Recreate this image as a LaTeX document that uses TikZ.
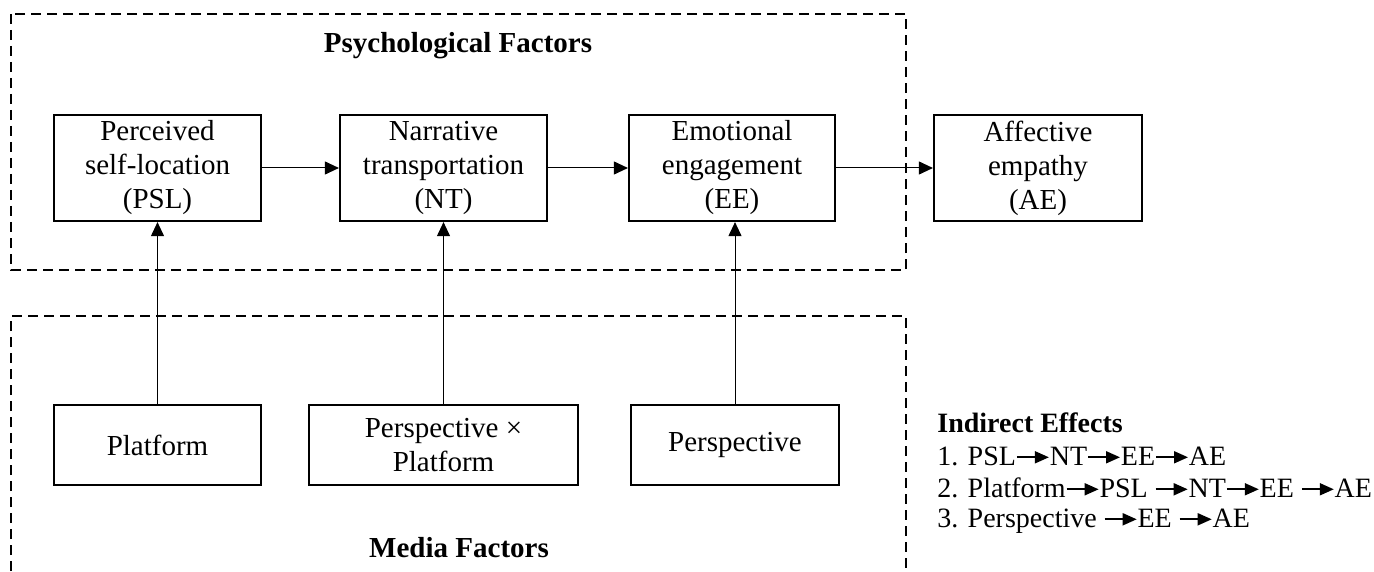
\documentclass[tikz,border=0pt]{standalone}
\usepackage{fontspec}
\setmainfont{Liberation Serif}
\usetikzlibrary{arrows.meta}
\tikzset{
  box/.style={draw, line width=1.1pt, minimum height=53pt, align=center, inner sep=0pt,
    font=\fontsize{14.5}{17}\selectfont},
  lowbox/.style={draw, line width=1.1pt, minimum height=40pt, align=center, inner sep=0pt,
    font=\fontsize{14.5}{17}\selectfont},
  group/.style={draw, line width=1.1pt, dash pattern=on 5pt off 3pt},
  conn/.style={line width=0.5pt, -{Triangle[length=7pt,width=6.5pt]}},
  title/.style={font=\bfseries\fontsize{14.5}{16}\selectfont},
  effline/.style={anchor=base west, inner sep=0pt, font=\fontsize{14}{16}\selectfont},
}
\newcommand{\inarr}{\tikz[baseline=-0.6ex]\draw[line width=0.9pt,-{Triangle[length=7pt,width=6pt]}] (0,0) -- (16pt,0);}
\begin{document}
\begin{tikzpicture}[x=0.5pt,y=-0.5pt]
\useasboundingbox (0,0) rectangle (1374,572);
% group frames
\draw[group] (11,14) rectangle (906,270);
\draw[group] (11,571) -- (11,316) -- (906,316) -- (906,571);
\node[title] (psy) at (458,46) {Psychological Factors};
\node[title] (med) at (459,548) {Media Factors};
% boxes
\node[box, minimum width=103.5pt] (psl) at (157.5,168) {Perceived\\self-location\\(PSL)};
\node[box, minimum width=103.5pt] (nt) at (443.5,168) {Narrative\\transportation\\(NT)};
\node[box, minimum width=103pt] (ee) at (732,168) {Emotional\\engagement\\(EE)};
\node[box, minimum width=104pt] (ae) at (1038,168) {Affective\\empathy\\(AE)};
\node[lowbox, minimum width=103.5pt] (plat) at (157.5,445) {Platform};
\node[lowbox, minimum width=134.5pt] (pxp) at (443.5,445) {Perspective ×\\Platform};
\node[lowbox, minimum width=104pt] (persp) at (735,445) {Perspective};
% connectors
\draw[conn] (psl.east) -- (nt.west);
\draw[conn] (nt.east) -- (ee.west);
\draw[conn] (ee.east) -- (ae.west);
\draw[conn] (plat.north) -- (psl.south);
\draw[conn] (pxp.north) -- (nt.south);
\draw[conn] (persp.north) -- (persp.north |- ee.south);
% indirect effects
\node[effline] (ie0) at (937,432) {\textbf{Indirect Effects}};
\node[effline] (ie1) at (937,465) {1. PSL\inarr NT\inarr EE\inarr AE};
\node[effline] (ie2) at (937,497) {2. Platform\inarr PSL \inarr NT\inarr EE \inarr AE};
\node[effline] (ie3) at (937,527) {3. Perspective \inarr EE \inarr AE};
\end{tikzpicture}
\end{document}
